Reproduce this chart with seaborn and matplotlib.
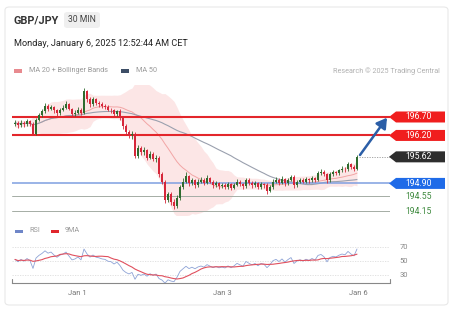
import numpy as np
import pandas as pd
import matplotlib
matplotlib.use("Agg")
import matplotlib.pyplot as plt
import seaborn as sns
from matplotlib.patches import FancyBboxPatch, Polygon, Rectangle
from matplotlib.transforms import blended_transform_factory

# ---------------- data ----------------
closes = [196.55, 196.48, 196.55, 196.50, 196.58, 196.52, 196.25, 196.62, 196.75, 196.85,
          197.00, 196.92, 196.98, 196.88, 196.80, 196.90, 196.95, 197.05, 196.92, 196.78,
          196.82, 196.90, 196.80, 197.40, 197.20, 197.05, 197.18, 197.08, 197.05, 197.00,
          196.98, 196.90, 196.88, 196.78, 196.85, 196.70, 196.45, 196.30, 196.20, 196.25,
          195.65, 195.85, 195.75, 195.80, 195.60, 195.70, 195.55, 195.60, 195.15, 194.95,
          194.45, 194.60, 194.40, 194.30, 194.50, 194.80, 194.95, 195.10, 194.90, 194.98,
          194.85, 194.95, 195.00, 194.92, 195.05, 194.95, 194.85, 194.90, 194.82, 194.85,
          194.80, 194.88, 194.78, 194.85, 194.95, 194.88, 194.82, 195.00, 194.92, 194.85,
          194.90, 194.80, 194.88, 194.85, 194.70, 194.80, 194.95, 195.00, 194.92, 195.02,
          194.90, 195.00, 195.08, 194.85, 194.95, 195.00, 194.95, 195.02, 194.98, 195.05,
          195.00, 195.18, 195.22, 195.15, 194.98, 195.15, 195.20, 195.18, 195.25, 195.30,
          195.28, 195.42, 195.35, 195.30, 195.62]
first_open = 196.50
highs = [196.62, 196.60, 196.62, 196.60, 196.65, 196.63, 196.56, 196.68, 196.82, 196.92,
         197.08, 197.05, 197.03, 197.01, 196.92, 196.95, 197.02, 197.12, 197.08, 196.95,
         196.88, 196.96, 196.94, 197.48, 197.44, 197.25, 197.25, 197.22, 197.12, 197.10,
         197.05, 197.02, 196.95, 196.92, 196.90, 196.92, 196.74, 196.50, 196.36, 196.32,
         196.28, 195.95, 195.92, 195.88, 195.84, 195.78, 195.76, 195.68, 195.64, 195.20,
         194.98, 194.68, 194.66, 194.48, 194.58, 194.86, 195.05, 195.20, 195.14, 195.06,
         195.02, 195.02, 195.08, 195.05, 195.12, 195.08, 194.98, 194.96, 194.94, 194.92,
         194.90, 194.94, 194.92, 194.90, 195.02, 195.00, 194.92, 195.06, 195.04, 194.96,
         194.96, 194.94, 194.94, 194.92, 194.90, 194.86, 195.02, 195.08, 195.04, 195.10,
         195.06, 195.06, 195.14, 195.12, 195.00, 195.06, 195.04, 195.08, 195.06, 195.10,
         195.08, 195.24, 195.28, 195.26, 195.18, 195.20, 195.26, 195.24, 195.30, 195.36,
         195.34, 195.48, 195.46, 195.40, 195.66]
lows = [196.45, 196.40, 196.44, 196.42, 196.46, 196.45, 196.20, 196.22, 196.58, 196.70,
        196.82, 196.86, 196.88, 196.82, 196.74, 196.76, 196.86, 196.92, 196.88, 196.72,
        196.74, 196.78, 196.76, 196.78, 197.10, 196.98, 197.00, 197.02, 196.98, 196.94,
        196.92, 196.85, 196.82, 196.72, 196.74, 196.62, 196.38, 196.22, 196.12, 196.10,
        195.58, 195.60, 195.68, 195.68, 195.54, 195.55, 195.50, 195.48, 195.08, 194.88,
        194.38, 194.40, 194.32, 194.20, 194.24, 194.46, 194.76, 194.90, 194.84, 194.86,
        194.78, 194.80, 194.90, 194.86, 194.88, 194.90, 194.78, 194.80, 194.76, 194.78,
        194.74, 194.76, 194.72, 194.74, 194.82, 194.82, 194.76, 194.78, 194.86, 194.78,
        194.80, 194.74, 194.76, 194.78, 194.62, 194.66, 194.76, 194.90, 194.86, 194.88,
        194.84, 194.86, 194.96, 194.78, 194.80, 194.90, 194.90, 194.90, 194.92, 194.94,
        194.95, 194.96, 195.12, 195.10, 194.92, 194.94, 195.10, 195.12, 195.14, 195.20,
        195.22, 195.24, 195.28, 195.24, 195.26]

resistance_levels = [196.70, 196.20]
last_price_label = "195.62"
pivot_level = 194.90
support_levels = [194.55, 194.15]
rsi_ticks = [70, 50, 30]
date_ticks = ["Jan 1", "Jan 3", "Jan 6"]
date_tick_pos = [20.7, 69.0, 114.3]

# ---------------- derived ----------------
n = len(closes)
idx = np.arange(n)
c = pd.Series(closes)
o = pd.Series([first_open] + closes[:-1])
ma20 = c.rolling(20, min_periods=2).mean().bfill()
sd20 = c.rolling(20, min_periods=2).std().bfill()
bb_up = ma20 + 2 * sd20
bb_lo = ma20 - 2 * sd20
ma50 = c.rolling(50, min_periods=1).mean()

# Wilder RSI (14) with a neutral seed, then its 9-period MA
diffs = np.diff(np.r_[first_open, closes])
ag, al = 0.04, 0.04
rsi_vals = []
for dv in diffs:
    ag = (ag * 13 + max(dv, 0)) / 14
    al = (al * 13 + max(-dv, 0)) / 14
    rsi_vals.append(100 - 100 / (1 + ag / al))
rsi = pd.Series(rsi_vals)
rsi9 = rsi.rolling(9, min_periods=1).mean()

# ---------------- figure ----------------
sns.set_theme(style="white")
plt.rcParams["font.family"] = ["Roboto", "DejaVu Sans"]
W, H = 454, 316
fig = plt.figure(figsize=(W / 100, H / 100), dpi=100)
fig.patch.set_facecolor("white")

def fx(px):
    return px / W

def fy(py):
    return 1 - py / H

# card
fig.patches.append(FancyBboxPatch((fx(5), fy(305)), fx(443), (300 - 2) / H,
                                  boxstyle="round,pad=0,rounding_size=0.01",
                                  transform=fig.transFigure, fc="white", ec="#e8e8e8", lw=0.8,
                                  zorder=-10))
# header
fig.text(fx(13), fy(20), "GBP/JPY", fontsize=7.8, fontweight="bold", color="#333333", va="center")
fig.patches.append(FancyBboxPatch((fx(64), fy(28)), fx(36), 16 / H,
                                  boxstyle="round,pad=0,rounding_size=0.008",
                                  transform=fig.transFigure, fc="#efefef", ec="none", zorder=-5))
fig.text(fx(82), fy(20), "30 MIN", fontsize=6.2, color="#444444", va="center", ha="center")
fig.text(fx(14), fy(43), "Monday, January 6, 2025 12:52:44 AM CET", fontsize=6.6,
         color="#222222", va="center")

# legends
def legend_bar(x, y, color):
    fig.patches.append(Rectangle((fx(x), fy(y + 1.5)), fx(8), 3 / H, transform=fig.transFigure,
                                 fc=color, ec="none"))

legend_bar(14, 71, "#e88a8f")
fig.text(fx(29), fy(71), "MA 20 + Bollinger Bands", fontsize=5.2, color="#9a9a9a", va="center")
legend_bar(121, 71, "#3d4e66")
fig.text(fx(136), fy(71), "MA 50", fontsize=5.2, color="#9a9a9a", va="center")
fig.text(fx(440), fy(71), "Research \u00a9 2025 Trading Central", fontsize=5.2, color="#b0b0b0",
         va="center", ha="right")
legend_bar(15, 231, "#6f86c8")
fig.text(fx(29), fy(231), "RSI", fontsize=5.2, color="#9a9a9a", va="center")
legend_bar(51, 231, "#e0262c")
fig.text(fx(65), fy(231), "9MA", fontsize=5.2, color="#9a9a9a", va="center")

# ---------------- price axes ----------------
ax = fig.add_axes([fx(12), fy(215), fx(378), 130 / H])
ax.set_xlim(-1, 125)
ax.set_ylim(194.044, 197.567)
ax.axis("off")

ax.fill_between(idx, bb_lo, bb_up, color="#fbdcdc", alpha=0.7, lw=0, zorder=1)
sns.lineplot(x=idx, y=ma20.values, ax=ax, color="#f2a5a5", lw=0.7, zorder=2)
sns.lineplot(x=idx, y=ma50.values, ax=ax, color="#9aa0ae", lw=0.8, zorder=2)

for lvl in resistance_levels:
    ax.axhline(lvl, xmin=0, xmax=1, color="#e3262b", lw=1.5, zorder=3)
ax.axhline(pivot_level, color="#7f9fe0", lw=1.1, zorder=3)
for lvl in support_levels:
    ax.axhline(lvl, xmax=1, color="#a5ada5", lw=0.7, zorder=3)

up = c >= o
cols = np.where(up, "#2e6b2e", "#d6273a")
ax.vlines(idx, lows, highs, colors=cols, lw=0.6, zorder=4)
body_lo = np.minimum(o, c)
body_h = np.maximum(np.abs(c - o), 0.015)
ax.bar(idx, body_h, bottom=body_lo, width=0.75, color=cols, lw=0, zorder=5)

last = closes[-1]
ax.plot([n - 0.5, 125], [last, last], color="#999999", lw=0.6, ls=(0, (1.5, 1.5)), zorder=3)
ax.annotate("", xy=(124.0, resistance_levels[0] - 0.02), xytext=(n, last + 0.05),
            arrowprops=dict(arrowstyle="-|>,head_length=0.5,head_width=0.3", color="#2b5ea7",
                            lw=1.8, shrinkA=0, shrinkB=0), zorder=6)

# tags on right
fig.canvas.draw()
ppu = ax.get_window_extent().height / (ax.get_ylim()[1] - ax.get_ylim()[0])
hh = 5.5 / ppu
bt = blended_transform_factory(fig.transFigure, ax.transData)

def tag(level, text, color):
    x0, x1, x2 = fx(389), fx(396), fx(445)
    poly = Polygon([(x0, level), (x1, level + hh), (x2, level + hh), (x2, level - hh),
                    (x1, level - hh)], closed=True, transform=bt, fc=color, ec="none",
                   clip_on=False, zorder=7)
    fig.patches.append(poly)
    fig.text(fx(419), level, text, transform=bt, fontsize=6.2, color="white", ha="center",
             va="center", zorder=8)

tag(resistance_levels[0], f"{resistance_levels[0]:.2f}", "#f01e1e")
tag(resistance_levels[1], f"{resistance_levels[1]:.2f}", "#f01e1e")
tag(last, last_price_label, "#2e2e2e")
tag(pivot_level, f"{pivot_level:.2f}", "#1f6be8")
for lvl in support_levels:
    fig.text(fx(419), lvl, f"{lvl:.2f}", transform=bt, fontsize=6.2, color="#3f8a3f",
             ha="center", va="center", zorder=8)

# ---------------- RSI axes ----------------
rx = fig.add_axes([fx(12), fy(283), fx(378), 43 / H])
rx.set_xlim(-1, 125)
rx.set_ylim(18.6, 80)
for s in ["top", "right", "left"]:
    rx.spines[s].set_visible(False)
rx.spines["bottom"].set_color("#888888")
rx.spines["bottom"].set_linewidth(0.8)
rx.set_yticks([])
rx.set_xticks(date_tick_pos)
rx.set_xticklabels(date_ticks, fontsize=5.5, color="#777777")
rx.tick_params(axis="x", length=0, pad=5)
rbt = blended_transform_factory(rx.transAxes, rx.transData)
for v in rsi_ticks:
    rx.axhline(v, color="#dddddd", lw=0.6, ls=(0, (1.5, 1.5)), zorder=1)
    rx.text(1.025, v, str(v), transform=rbt, fontsize=5.5, color="#888888", va="center", ha="left")
rx.plot([0, 0], [0, 0.1], transform=rx.transAxes, color="#888888", lw=0.8, clip_on=False)
rx.plot([1, 1], [0, 0.1], transform=rx.transAxes, color="#888888", lw=0.8, clip_on=False)
sns.lineplot(x=idx, y=rsi.values, ax=rx, color="#8ea3d6", lw=0.6, zorder=2)
sns.lineplot(x=idx, y=rsi9.values, ax=rx, color="#e0505e", lw=0.8, zorder=3)
rx.set_xlabel("")
rx.set_ylabel("")
rx.set_facecolor("none")

fig.savefig("out.png", dpi=100, facecolor="white")
